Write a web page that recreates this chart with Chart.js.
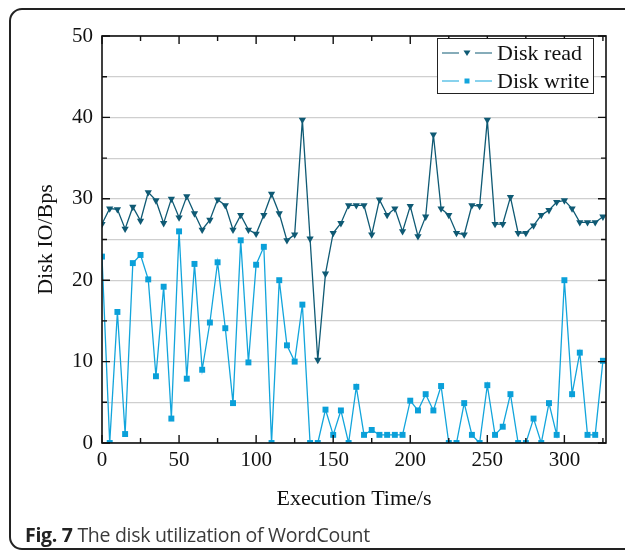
<!DOCTYPE html>
<html lang="en">
<head>
<meta charset="UTF-8">
<title>Disk utilization of WordCount</title>
<script src="https://cdn.jsdelivr.net/npm/chart.js"></script>
<style>
  html, body { margin: 0; padding: 0; background: #fff; }
  body { width: 625px; height: 556px; position: relative; overflow: hidden; }
  .frame {
    position: absolute; left: 9px; top: 8px; width: 660px; height: 542px;
    border: 2px solid #222; border-radius: 13px; box-sizing: border-box;
  }
  .chart-box { position: absolute; left: 0; top: 0; width: 625px; height: 556px; }
  .caption {
    position: absolute; left: 25px; top: 521px;
    font-family: "Open Sans", "Noto Sans", sans-serif; font-size: 19.5px; color: #3a3a3a;
    letter-spacing: -0.3px;
  }
  .caption b { color: #222; }
</style>
</head>
<body>
<div class="frame"></div>
<div class="chart-box"><canvas id="diskChart"></canvas></div>
<div class="caption"><b>Fig. 7</b> The disk utilization of WordCount</div>

<script>
// execution time (s)
const times = [0, 5, 10, 15, 20, 25, 30, 35, 40, 45, 50, 55, 60, 65, 70, 75, 80, 85, 90, 95,
  100, 105, 110, 115, 120, 125, 130, 135, 140, 145, 150, 155, 160, 165, 170, 175, 180, 185, 190, 195,
  200, 205, 210, 215, 220, 225, 230, 235, 240, 245, 250, 255, 260, 265, 270, 275, 280, 285, 290, 295,
  300, 305, 310, 315, 320, 325];

const diskRead = [26.9, 28.8, 28.7, 26.3, 29.0, 27.3, 30.8, 29.8, 27.0, 30.0, 27.7, 30.3, 28.2, 26.2, 27.4, 29.9, 29.2, 26.2, 28.0, 26.2,
  25.7, 28.0, 30.6, 28.2, 24.9, 25.6, 39.7, 25.1, 10.2, 20.8, 25.8, 27.0, 29.2, 29.2, 29.2, 25.6, 29.9, 28.0, 28.8, 26.0,
  29.1, 25.4, 27.8, 37.9, 28.8, 28.0, 25.8, 25.6, 29.2, 29.1, 39.7, 26.9, 26.9, 30.2, 25.8, 25.8, 26.7, 28.0, 28.6, 29.6,
  29.8, 28.8, 27.1, 27.1, 27.1, 27.8];

const diskWrite = [22.9, 0, 16.1, 1.1, 22.1, 23.1, 20.1, 8.2, 19.2, 3.0, 26.0, 7.9, 22.0, 9.0, 14.8, 22.2, 14.1, 4.9, 24.9, 9.9,
  21.9, 24.1, 0, 20.0, 12.0, 10.0, 17.0, 0, 0, 4.1, 1.0, 4.0, 0, 6.9, 1.0, 1.6, 1.0, 1.0, 1.0, 1.0,
  5.2, 4.0, 6.0, 4.0, 7.0, 0, 0, 4.9, 1.0, 0, 7.1, 1.0, 2.0, 6.0, 0, 0, 3.0, 0, 4.9, 1.0,
  20.0, 6.0, 11.1, 1.0, 1.0, 10.1];

const seriesNames = ['Disk read', 'Disk write'];
const xTitle = 'Execution Time/s';
const yTitle = 'Disk IO/Bps';

const readColor = '#0f5a74';
const writeColor = '#12a5dc';
const serif = '"Liberation Serif", "Times New Roman", serif';

function toPoints(vals) {
  return times.map((t, i) => ({ x: t, y: vals[i] }));
}

// black box round the plot with inward ticks, plus the legend box
const framePlugin = {
  id: 'frame',
  afterDraw(chart) {
    const ctx = chart.ctx;
    const a = chart.chartArea;
    const xs = chart.scales.x, ys = chart.scales.y;
    ctx.save();
    ctx.strokeStyle = '#111';
    ctx.lineWidth = 1.6;
    ctx.strokeRect(a.left, a.top, a.right - a.left, a.bottom - a.top);

    ctx.lineWidth = 1.4;
    ctx.beginPath();
    for (let v = 0; v <= 325; v += 25) {
      const px = xs.getPixelForValue(v);
      const len = v % 50 === 0 ? 8 : 5;
      ctx.moveTo(px, a.bottom); ctx.lineTo(px, a.bottom - len);
      ctx.moveTo(px, a.top); ctx.lineTo(px, a.top + len);
    }
    for (let v = 0; v <= 50; v += 5) {
      const py = ys.getPixelForValue(v);
      const len = v % 10 === 0 ? 8 : 5;
      ctx.moveTo(a.left, py); ctx.lineTo(a.left + len, py);
      ctx.moveTo(a.right, py); ctx.lineTo(a.right - len, py);
    }
    ctx.stroke();

    // legend
    const lx = 437, ly = 38, lw = 156, lh = 55;
    ctx.fillStyle = '#fff';
    ctx.fillRect(lx, ly, lw, lh);
    ctx.lineWidth = 1;
    ctx.strokeStyle = '#222';
    ctx.strokeRect(lx + 0.5, ly + 0.5, lw, lh);
    const rows = [
      { name: seriesNames[0], color: readColor, y: 53, style: 'tri' },
      { name: seriesNames[1], color: writeColor, y: 81, style: 'sq' }
    ];
    rows.forEach(r => {
      ctx.strokeStyle = r.color;
      ctx.lineWidth = 1.2;
      ctx.beginPath();
      ctx.moveTo(442, r.y); ctx.lineTo(459, r.y);
      ctx.moveTo(475, r.y); ctx.lineTo(492, r.y);
      ctx.stroke();
      ctx.fillStyle = r.color;
      ctx.beginPath();
      if (r.style === 'tri') {
        ctx.moveTo(463.5, r.y - 2.5); ctx.lineTo(470.5, r.y - 2.5); ctx.lineTo(467, r.y + 3);
        ctx.closePath();
      } else {
        ctx.rect(464.5, r.y - 2.5, 5, 5);
      }
      ctx.fill();
      ctx.fillStyle = '#111';
      ctx.font = '22px ' + serif;
      ctx.textBaseline = 'middle';
      ctx.textAlign = 'left';
      ctx.fillText(r.name, 497, r.y + 1);
    });
    ctx.restore();
  }
};

new Chart(document.getElementById('diskChart'), {
  type: 'line',
  data: {
    datasets: [{
      label: seriesNames[0],
      data: toPoints(diskRead),
      borderColor: readColor,
      backgroundColor: readColor,
      borderWidth: 1.3,
      pointStyle: 'triangle',
      rotation: 180,
      pointRadius: 4.2,
      pointBorderWidth: 0,
      tension: 0
    }, {
      label: seriesNames[1],
      data: toPoints(diskWrite),
      borderColor: writeColor,
      backgroundColor: '#0aa0d9',
      borderWidth: 1.3,
      pointStyle: 'rect',
      pointRadius: 4.2,
      pointBorderWidth: 0,
      tension: 0
    }]
  },
  options: {
    responsive: true,
    maintainAspectRatio: false,
    animation: false,
    layout: { padding: { top: 36, right: 19, left: 0, bottom: 0 } },
    plugins: { legend: { display: false }, tooltip: { enabled: false } },
    scales: {
      x: {
        type: 'linear',
        min: 0,
        max: 327,
        afterFit(scale) { scale.height = 113; },
        grid: { display: false, drawTicks: false },
        border: { display: false },
        ticks: {
          stepSize: 50,
          includeBounds: false,
          autoSkip: false,
          maxRotation: 0,
          padding: 5,
          color: '#111',
          font: { family: serif, size: 21 }
        },
        title: {
          display: true,
          text: xTitle,
          color: '#111',
          font: { family: serif, size: 22 },
          padding: { bottom: 44 }
        }
      },
      y: {
        min: 0,
        max: 50,
        afterFit(scale) { scale.width = 102; },
        grid: { color: '#cfcfcf', lineWidth: 1.2, drawTicks: false },
        border: { display: false },
        ticks: {
          stepSize: 5,
          padding: 9,
          color: '#111',
          font: { family: serif, size: 21 },
          callback: v => (v % 10 === 0 ? v : '')
        },
        title: {
          display: true,
          text: yTitle,
          color: '#111',
          font: { family: serif, size: 22 },
          padding: { top: 33 }
        }
      }
    }
  },
  plugins: [framePlugin]
});
</script>
</body>
</html>
